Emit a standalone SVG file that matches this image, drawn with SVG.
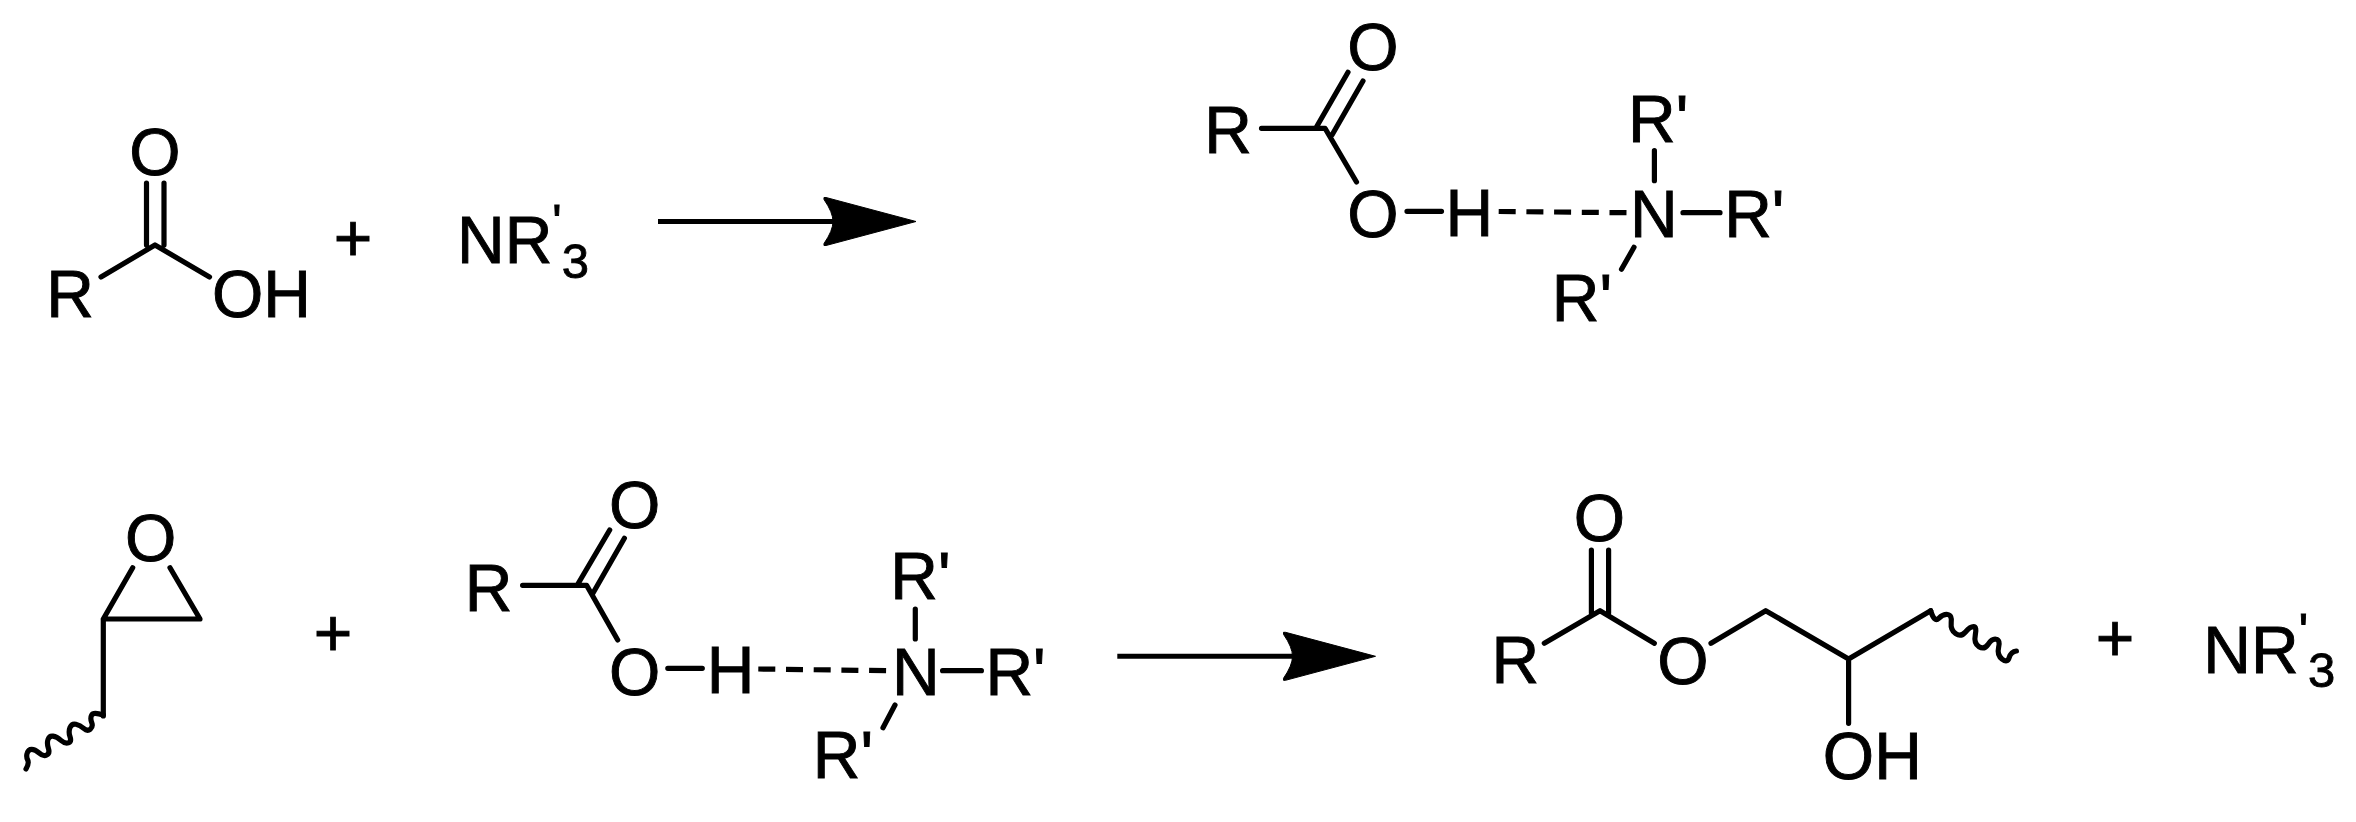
<svg xmlns="http://www.w3.org/2000/svg" width="2356" height="822" viewBox="0 0 2356 822">
<style>
text{font-family:"Liberation Sans",Arial,sans-serif;font-size:66px;fill:#000;stroke:#000;stroke-width:0.9}
.s{font-size:49px}
.b{fill:none;stroke:#000;stroke-width:5.2;stroke-linecap:round;stroke-linejoin:round}
.d{stroke-dasharray:17 10.7;stroke-linecap:butt}
.a{fill:none;stroke:#000;stroke-width:5}
.m{text-anchor:middle}
</style>
<defs>
<marker id="head" markerUnits="userSpaceOnUse" markerWidth="96" markerHeight="52" viewBox="0 0 96 52" refX="14" refY="26" orient="auto" overflow="visible">
<path d="M94 26L4 2Q1 1 2 4Q11 17 11 26Q11 35 2 48Q1 51 4 50Z" fill="#000" stroke="#000" stroke-width="1"/>
</marker>
</defs>
<rect width="2356" height="822" fill="#fff"/>
<g id="connectors">
<line class="a" x1="658" y1="221.5" x2="836" y2="221.5" marker-end="url(#head)"/>
<line class="a" x1="1117.3" y1="656.3" x2="1295.5" y2="656.3" marker-end="url(#head)"/>
</g>
<g id="acid">
<path class="b" d="M101 277L155 245L209.5 277M146.5 245V183M164 245V183"/>
<text x="46.2" y="317">R</text>
<text x="129.3" y="175">O</text>
<text x="212" y="316.5">OH</text>
</g>
<g id="plus-1"><text class="m" x="353" y="261">+</text></g>
<g id="amine-1"><text x="457" y="263.3">NR<tspan class="s" y="238">'</tspan><tspan class="s" y="278">3</tspan></text></g>
<g id="complex-1">
<path class="b" d="M1261.5 128.3H1325L1356.5 182M1316.6 126.7L1348 72.3M1332 135L1363 81M1407 211.3H1441.5M1654.4 150.7V180.7M1683 212.7H1720M1634 247.3L1621.5 269.3"/>
<path class="b d" d="M1498.7 211.5L1626.7 212.7"/>
<text x="1204.3" y="152.7">R</text>
<text x="1347.2" y="70">O</text>
<text x="1347.2" y="236.5">O</text>
<text x="1445.4" y="236">H</text>
<text x="1630" y="237.3">N</text>
<text x="1628" y="141.7">R'</text>
<text x="1724.2" y="237">R'</text>
<text x="1551.8" y="320.7">R'</text>
</g>
<g id="epoxide">
<path class="b" d="M132.7 567.7L103.3 619H200L170 567.7M103.3 619V716"/>
<path class="b" d="M103.3 715Q93.3 711.7 91.7 715Q90 718.3 91.7 722.5Q93.3 726.7 90.3 729.2Q87.3 731.7 83.7 728.4Q80 725 75.9 724.2Q71.7 723.3 70 727.5Q68.3 731.7 70 736.7Q71.7 741.7 68.4 742.9Q65 744 60.9 740.4Q56.7 736.7 53 736.2Q49.3 735.7 48 739.5Q46.7 743.3 48.4 748.3Q50 753.3 46.7 755Q43.3 756.7 39.2 753Q35 749.3 31.7 749.3Q28.3 749.3 27.2 753Q26 756.7 27.7 760Q29.3 763.3 26 769"/>
<text x="125.1" y="561">O</text>
</g>
<g id="plus-2"><text class="m" x="333" y="656">+</text></g>
<g id="complex-2">
<path class="b" d="M522.6 585.3H586.6L617.7 640M577.3 585L609.7 530M592.9 593.3L624.4 538.3M667.8 668.3H702.3M915.3 609V639M942.6 670.7H981.4M895 705L883 727.7"/>
<path class="b d" d="M758.3 669L887.5 670.7"/>
<text x="464.8" y="610.7">R</text>
<text x="609" y="527.6">O</text>
<text x="609" y="694.5">O</text>
<text x="706.8" y="693.3">H</text>
<text x="891.9" y="695">N</text>
<text x="890.3" y="599.3">R'</text>
<text x="985.4" y="695">R'</text>
<text x="812.8" y="778.3">R'</text>
</g>
<g id="ester">
<path class="b" d="M1544.3 643.3L1600 610.7L1654.3 643.3M1591.4 613V550M1608.6 613V550M1711 643.3L1765.7 610.7L1848.6 659L1930.7 610.7M1848.6 659V723.3"/>
<path class="b" d="M1930.7 610.7Q1934.3 622.7 1938.7 618.3Q1943.2 614 1947.6 614.5Q1952.1 615 1951.2 622.5Q1950.4 630 1955.7 633.7Q1961 637.3 1965.5 632Q1970 626.7 1973.5 626.7Q1977 626.7 1975.3 635Q1973.6 643.3 1979 646.7Q1984.3 650 1988.2 644.2Q1992 638.3 1996.2 639.2Q2000.4 640 1998.6 647.5Q1996.8 655 2002.2 659.2Q2007.5 663.3 2009.2 657.5Q2011 651.7 2016.4 651"/>
<text x="1491.6" y="683.3">R</text>
<text x="1573.8" y="541">O</text>
<text x="1657.2" y="684">O</text>
<text x="1822.8" y="779.3">OH</text>
</g>
<g id="plus-3"><text class="m" x="2115" y="661">+</text></g>
<g id="amine-2"><text x="2203.3" y="673.3">NR<tspan class="s" y="647.4">'</tspan><tspan class="s" y="687">3</tspan></text></g>
</svg>
